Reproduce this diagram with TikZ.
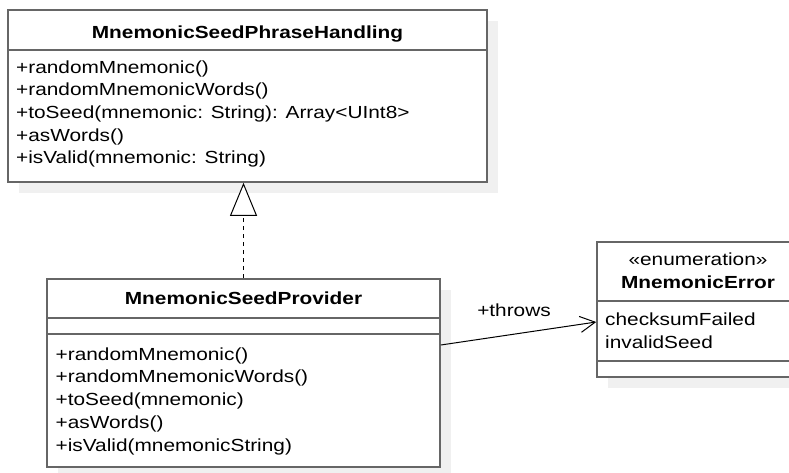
\documentclass[tikz,border=0pt]{standalone}
\usepackage{fontspec}
\setmainfont{Liberation Sans}[FakeStretch=1.19]
\usetikzlibrary{arrows.meta,calc,positioning,shadows}

\tikzset{
  umlbox/.style={draw=black!60, line width=1.6pt, fill=white, inner sep=0pt,
    general shadow={fill=black!6, shadow xshift=11pt, shadow yshift=-11pt}},
  umlsep/.style={draw=black!60, line width=1.6pt},
  member/.style={anchor=base west, inner sep=0pt, font=\fontsize{17.5}{20}\selectfont},
  classname/.style={anchor=base, inner sep=0pt, font=\fontsize{17.5}{20}\selectfont\bfseries},
  stereo/.style={anchor=base, inner sep=0pt, font=\fontsize{17.5}{20}\selectfont},
}

\begin{document}
\begin{tikzpicture}[x=1pt,y=-1pt]
\useasboundingbox (0,0) rectangle (789,472);

% interface
\node[umlbox, minimum width=479pt, minimum height=172pt] (handling) at (247.5,96) {};
\draw[umlsep] ($(handling.north west)+(0,41)$) -- ($(handling.north east)+(0,41)$);
\node[classname] (handlingname) at (247.5,38.3) {MnemonicSeedPhraseHandling};
\node[member] (h1) at (16,73.3) {+randomMnemonic()};
\node[member] (h2) at (16,95.9) {+randomMnemonicWords()};
\node[member] (h3) at (16,118.5) {+toSeed(mnemonic: String): Array<UInt8>};
\node[member] (h4) at (16,141.1) {+asWords()};
\node[member] (h5) at (16,163.7) {+isValid(mnemonic: String)};

% provider class
\node[umlbox, minimum width=393pt, minimum height=188pt] (provider) at (243.5,373) {};
\draw[umlsep] ($(provider.north west)+(0,40)$) -- ($(provider.north east)+(0,40)$);
\draw[umlsep] ($(provider.north west)+(0,56)$) -- ($(provider.north east)+(0,56)$);
\node[classname] (providername) at (243.5,304.3) {MnemonicSeedProvider};
\node[member] (p1) at (55.5,360) {+randomMnemonic()};
\node[member] (p2) at (55.5,382.8) {+randomMnemonicWords()};
\node[member] (p3) at (55.5,405.6) {+toSeed(mnemonic)};
\node[member] (p4) at (55.5,428.4) {+asWords()};
\node[member] (p5) at (55.5,451.2) {+isValid(mnemonicString)};

% enumeration
\node[umlbox, minimum width=202pt, minimum height=135pt] (error) at (698,309.5) {};
\draw[umlsep] ($(error.north west)+(0,59.5)$) -- ($(error.north east)+(0,59.5)$);
\draw[umlsep] ($(error.north west)+(0,120)$) -- ($(error.north east)+(0,120)$);
\node[stereo] (errorstereo) at (698,265) {«enumeration»};
\node[classname] (errorname) at (698,288) {MnemonicError};
\node[member] (e1) at (605,325) {checksumFailed};
\node[member] (e2) at (605,348) {invalidSeed};

% relations
\draw[line width=1pt, dash pattern=on 4pt off 4pt, -{Triangle[open, length=33pt, width=27pt, fill=white]}]
  (provider.north) -- (provider.north |- handling.south);
\draw[line width=1pt, -{Straight Barb[length=15pt, width=16pt]}]
  ([yshift=28pt]provider.east) -- ([yshift=-12.5pt]error.west);
\node[stereo] (throwslabel) at (514,316) {+throws};
\end{tikzpicture}
\end{document}
